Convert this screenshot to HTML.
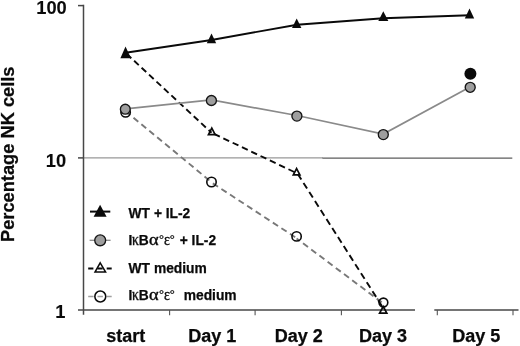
<!DOCTYPE html>
<html lang="en">
<head>
<meta charset="utf-8">
<title>Percentage NK cells</title>
<style>
  html, body { margin: 0; padding: 0; background: #ffffff; }
  body { width: 520px; height: 346px; overflow: hidden; }
  svg { display: block; will-change: transform; }
  text { font-family: "Liberation Sans", sans-serif; font-weight: bold; fill: #0a0a0a; stroke: #0a0a0a; stroke-width: 0.25px; }
  .ax { font-size: 18px; }
  .tk { stroke-width: 0.1px; font-size: 18.3px; }
  .lg { font-size: 13.8px; }
  .dg { font-size: 13.6px; font-weight: normal; stroke: #0a0a0a; stroke-width: 0.2px; }
  .gk { font-family: "Liberation Serif", serif; font-weight: normal; font-size: 15.7px; stroke: #0a0a0a; stroke-width: 0.35px; }
</style>
</head>
<body>
<svg width="520" height="346" viewBox="0 0 520 346">
  <rect x="0" y="0" width="520" height="346" fill="#ffffff"/>

  <!-- gridline at 10 -->
  <line x1="83" y1="157.8" x2="323" y2="157.8" stroke="#989898" stroke-width="1.35"/>
  <line x1="322.5" y1="158.1" x2="512.3" y2="158.1" stroke="#5c5c5c" stroke-width="1.3"/>

  <!-- axes -->
  <g stroke="#474747" stroke-width="1.5" fill="none">
    <line x1="83.5" y1="4.8" x2="83.5" y2="314.8"/>
    <line x1="78" y1="5.6" x2="83.5" y2="5.6"/>
    <line x1="78" y1="157.9" x2="83.5" y2="157.9"/>
    <line x1="78" y1="310" x2="415" y2="310" stroke-width="1.3"/>
    <line x1="434.3" y1="310" x2="518.5" y2="310" stroke-width="1.3"/>
  </g>
  <g stroke="#555555" stroke-width="1.1" fill="none">
    <line x1="169.6" y1="310" x2="169.6" y2="315.3"/>
    <line x1="255.1" y1="310" x2="255.1" y2="315.3"/>
    <line x1="341.4" y1="310" x2="341.4" y2="315.3"/>
    <line x1="437.3" y1="310" x2="437.3" y2="315.3"/>
    <line x1="513" y1="310" x2="513" y2="315.3"/>
  </g>

  <!-- series lines -->
  <g fill="none" stroke="#787878" stroke-width="1.9" stroke-dasharray="6.2 4.04">
    <line x1="125.6" y1="111.2" x2="211.5" y2="182.2" stroke-dashoffset="0"/>
    <line x1="211.5" y1="182.5" x2="296.6" y2="238.1" stroke-dashoffset="-1.6"/>
    <line x1="296.6" y1="238.5" x2="383.4" y2="303.6" stroke-dashoffset="2.2"/>
  </g>
  <g fill="none" stroke="#0a0a0a" stroke-width="1.9" stroke-dasharray="6.4 3.84">
    <line x1="125.5" y1="52.8" x2="211.5" y2="132.7" stroke-dasharray="6.35 3.82" stroke-dashoffset="-1.6"/>
    <line x1="211.5" y1="132.7" x2="296.6" y2="173.1" stroke-dasharray="6.4 3.9" stroke-dashoffset="-2.8"/>
    <line x1="296.9" y1="172.6" x2="383.3" y2="308.2" stroke-dasharray="6.7 4.0" stroke-dashoffset="-1.56"/>
  </g>
  <polyline points="125.5,108.8 211.5,100 297,115.5 383.3,134.1 470,87.0" fill="none" stroke="#8a8a8a" stroke-width="1.75"/>
  <polyline points="125.5,52.8 211.5,40 297,24.7 383.3,18.2 469.7,15.3" fill="none" stroke="#0a0a0a" stroke-width="1.9"/>

  <!-- markers: open circles (IkB medium) -->
  <g fill="none" stroke="#0a0a0a" stroke-width="1.6">
    <circle cx="125.6" cy="112.3" r="4.7"/>
    <circle cx="211.5" cy="182" r="4.7"/>
    <circle cx="296.6" cy="236.4" r="4.65"/>
    <circle cx="383.4" cy="302.5" r="4.4"/>
  </g>
  <!-- markers: open triangles (WT medium) -->
  <g fill="none" stroke="#0a0a0a" stroke-width="1.7" stroke-linejoin="miter">
    <path d="M211.8,128.2 L215.15,134.65 L208.45,134.65 Z"/>
    <path d="M296.6,168.6 L299.9,174.85 L293.3,174.85 Z"/>
    <path d="M383.2,306.5 L386.8,313.2 L379.6,313.2 Z"/>
  </g>
  <!-- markers: gray circles (IkB + IL-2) -->
  <g fill="#9e9e9e" stroke="#151515" stroke-width="1.35">
    <circle cx="125.3" cy="109.2" r="4.9"/>
    <circle cx="211.4" cy="100.5" r="5"/>
    <circle cx="296.9" cy="116.1" r="5"/>
    <circle cx="383.3" cy="134.6" r="5"/>
    <circle cx="470.2" cy="87.3" r="5"/>
  </g>
  <!-- black dot -->
  <circle cx="470.4" cy="73.7" r="6" fill="#0a0a0a"/>
  <!-- markers: filled triangles (WT + IL-2) -->
  <g fill="#0a0a0a" stroke="none">
    <path d="M125.5,46.6 L131,58.2 L120.4,58.2 Z"/>
    <path d="M211.5,33.6 L216.2,43.3 L206.8,43.3 Z"/>
    <path d="M296.7,18.5 L301.4,28 L292,28 Z"/>
    <path d="M383.3,11.3 L388.3,21 L378.3,21 Z"/>
    <path d="M469.5,8.6 L474.2,18.4 L464.8,18.4 Z"/>
  </g>

  <!-- legend -->
  <line x1="90" y1="211.6" x2="110.3" y2="211.6" stroke="#0a0a0a" stroke-width="2"/>
  <path d="M100.1,204.7 L106.6,216.7 L93.6,216.7 Z" fill="#0a0a0a"/>
  <text class="lg" x="128.6" y="217.7">WT + IL-2</text>

  <line x1="89.6" y1="240.3" x2="110.6" y2="240.3" stroke="#8c8c8c" stroke-width="1.3"/>
  <circle cx="100.2" cy="240.3" r="5.45" fill="#9e9e9e" stroke="#151515" stroke-width="1.35"/>
  <g>
    <text class="lg" x="128.6" y="245">I</text>
    <text class="gk" transform="translate(132,245) scale(0.87,1)">κ</text>
    <text class="lg" x="138.8" y="245">B</text>
    <text class="gk" transform="translate(149,245) scale(1.17,1)">α</text>
    <text class="dg" x="158.8" y="244.2">°</text>
    <text class="gk" transform="translate(163.9,245) scale(0.9,1)">ε</text>
    <text class="dg" x="169.5" y="244.2">°</text>
    <text class="lg" x="179.7" y="245">+ IL-2</text>
  </g>

  <line x1="88.2" y1="268.5" x2="111.7" y2="268.5" stroke="#0a0a0a" stroke-width="2" stroke-dasharray="5.2 4.05"/>
  <path d="M100.2,262.8 L105.6,272.1 L95.0,272.1 Z" fill="none" stroke="#0a0a0a" stroke-width="1.5"/>
  <text class="lg" x="128.6" y="272.6">WT medium</text>

  <line x1="88.2" y1="296.5" x2="111.7" y2="296.5" stroke="#a0a0a0" stroke-width="1.5" stroke-dasharray="5.4 3.9"/>
  <circle cx="100.3" cy="296.5" r="5.45" fill="none" stroke="#0a0a0a" stroke-width="1.55"/>
  <g>
    <text class="lg" x="128.6" y="300.2">I</text>
    <text class="gk" transform="translate(132,300.2) scale(0.87,1)">κ</text>
    <text class="lg" x="138.8" y="300.2">B</text>
    <text class="gk" transform="translate(149,300.2) scale(1.17,1)">α</text>
    <text class="dg" x="158.8" y="299.4">°</text>
    <text class="gk" transform="translate(163.9,300.2) scale(0.9,1)">ε</text>
    <text class="dg" x="169.5" y="299.4">°</text>
    <text class="lg" x="183.7" y="300.2">medium</text>
  </g>

  <!-- y tick labels -->
  <text class="ax tk" x="66.8" y="14" text-anchor="end">100</text>
  <text class="ax tk" x="66.2" y="166.6" text-anchor="end">10</text>
  <text class="ax tk" x="65.4" y="318" text-anchor="end">1</text>

  <!-- x tick labels -->
  <text class="ax" x="125.8" y="341.6" text-anchor="middle">start</text>
  <text class="ax" x="212.2" y="341.6" text-anchor="middle">Day 1</text>
  <text class="ax" x="298.8" y="341.6" text-anchor="middle">Day 2</text>
  <text class="ax" x="383" y="341.6" text-anchor="middle">Day 3</text>
  <text class="ax" x="476.3" y="341.6" text-anchor="middle">Day 5</text>

  <!-- y axis title -->
  <text class="ax" style="font-size:18.25px" transform="translate(13.9,242) rotate(-90)" x="0" y="0">Percentage NK cells</text>
</svg>
</body>
</html>
